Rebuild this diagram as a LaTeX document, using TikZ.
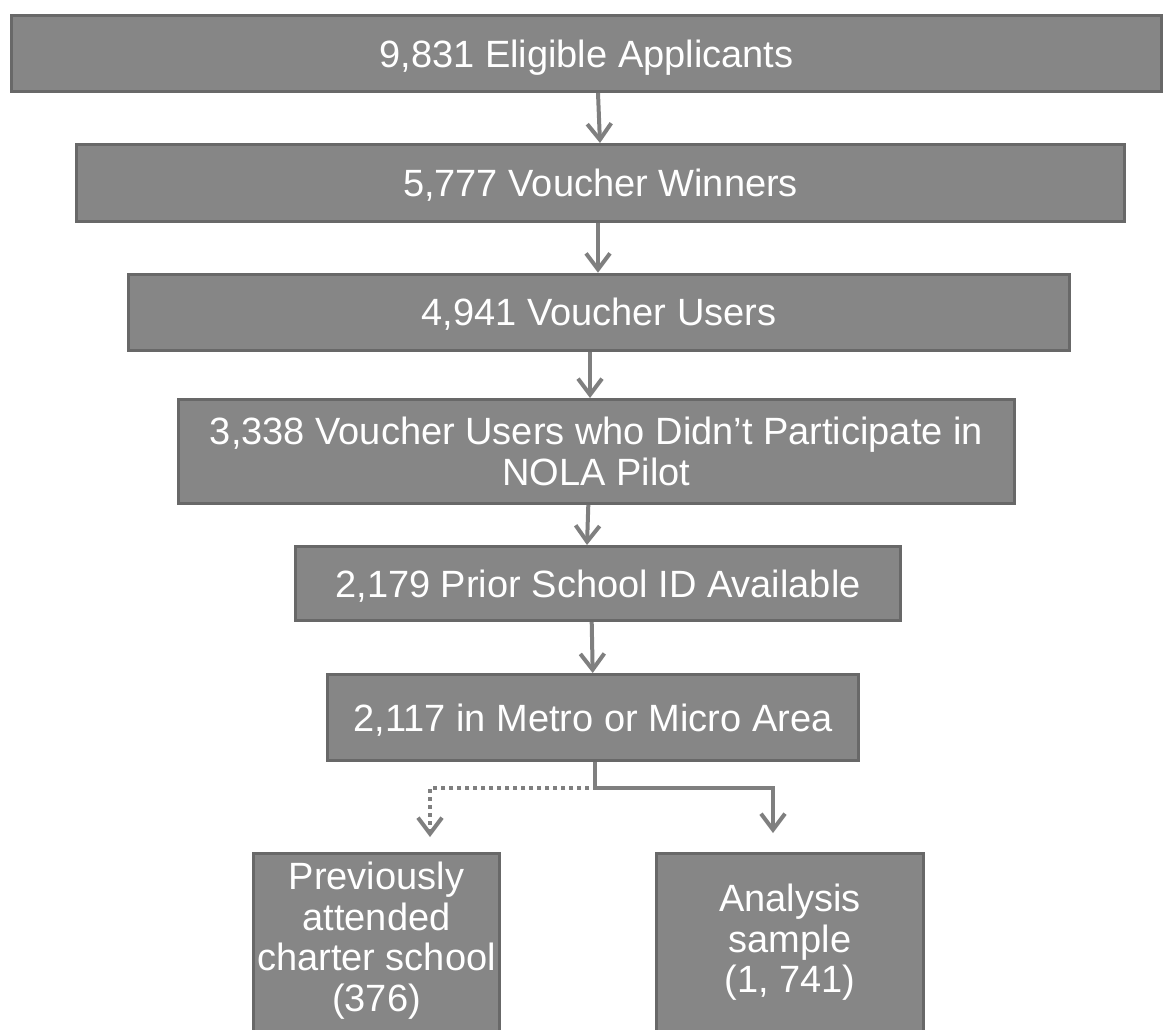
\documentclass[tikz,border=0pt]{standalone}
\usepackage{fontspec}
\setmainfont{Liberation Sans}
\usetikzlibrary{arrows.meta}
\definecolor{boxfill}{HTML}{868686}
\definecolor{boxline}{HTML}{686868}
\definecolor{arrline}{HTML}{7F7F7F}

\begin{document}
\begin{tikzpicture}[
  x=1pt,y=-1pt,
  stage/.style={draw=boxline,fill=boxfill,line width=3pt,inner sep=0pt,
  align=center,text=white,font=\fontsize{38}{40.5}\selectfont},
  onerow/.style={stage,text depth=0pt},
  arr/.style={-{Straight Barb[length=16pt,width=24pt]},draw=arrline,line width=4pt},
  darr/.style={arr,dash pattern=on 4pt off 4pt}
]
\useasboundingbox (0,0) rectangle (1172,1029);
\node[onerow,minimum width=1150pt,minimum height=76pt] (eligible) at (586.5,53.5) {9,831 Eligible Applicants};
\node[onerow,minimum width=1048pt,minimum height=76.5pt] (winners) at (600.5,182.75) {5,777 Voucher Winners};
\node[onerow,minimum width=941pt,minimum height=76pt] (users) at (599,312.2) {4,941 Voucher Users};
\node[stage,minimum width=836pt,minimum height=104pt] (nola) at (596.5,451.5) {3,338 Voucher Users who Didn’t Participate in\\NOLA Pilot};
\node[onerow,minimum width=605pt,minimum height=74pt] (prior) at (598,583.5) {2,179 Prior School ID Available};
\node[onerow,minimum width=531pt,minimum height=86pt] (metro) at (593,717.5) {2,117 in Metro or Micro Area};
\node[stage,anchor=north,minimum width=246pt,inner ysep=8.8pt] (charter) at (376.5,852) {Previously\\attended\\charter school\\(376)\rule[-40pt]{0pt}{0pt}};
\node[stage,anchor=north,minimum width=267pt,inner ysep=30.8pt] (analysis) at (790,852) {Analysis\\sample\\(1, 741)\rule[-40pt]{0pt}{0pt}};
\coordinate (split) at ([xshift=2pt,yshift=-26pt]metro.south);
\draw[arr] ([xshift=11.5pt]eligible.south) -- ([xshift=-0.5pt]winners.north);
\draw[arr] ([xshift=-2.5pt]winners.south) -- ([xshift=-1pt]users.north);
\draw[arr] ([xshift=-9pt]users.south) -- ([xshift=-6.5pt]nola.north);
\draw[arr] ([xshift=-8.2pt]nola.south) -- ([xshift=-11pt]prior.north);
\draw[arr] ([xshift=-6.3pt]prior.south) -- ([xshift=-0.3pt]metro.north);
\draw[arr] ([xshift=2pt]metro.south) -- (split) -| ([xshift=-17pt,yshift=19pt]analysis.north);
\draw[darr] ([xshift=-6pt]split) -| ([xshift=53.5pt,yshift=15pt]charter.north);
\end{tikzpicture}
\end{document}
